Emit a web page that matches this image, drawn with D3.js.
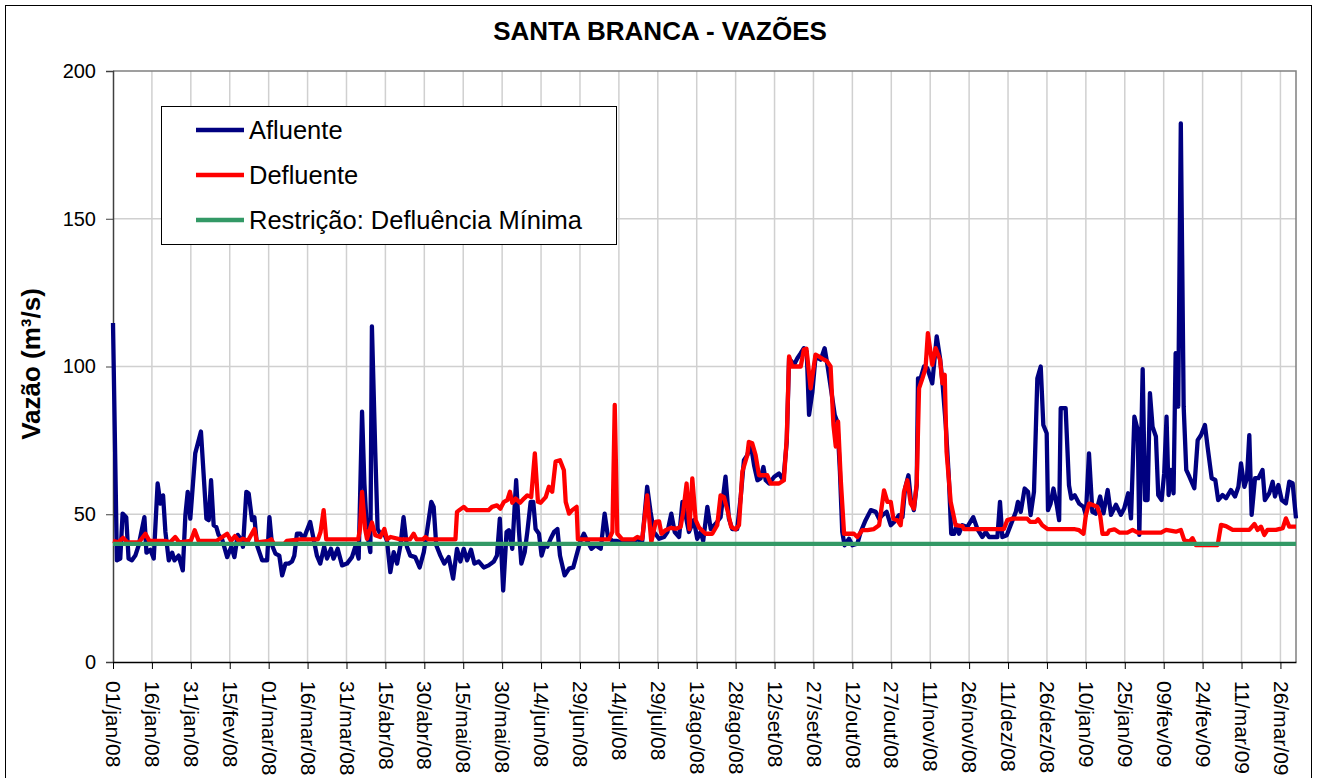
<!DOCTYPE html>
<html>
<head>
<meta charset="utf-8">
<script src="https://d3js.org/d3.v7.min.js"></script>
<style>
  body { margin: 0; background: #fff; }
  text { font-family: "Liberation Sans", Arial, sans-serif; }
</style>
</head>
<body>
<script>
// santa branca flows
// days are counted from 01/jan/08
const afluenteDia = [0,1.5,2.8,3.7,5.1,6,7.3,8.6,9.9,12.1,12.9,14.4,15.7,17.2,18.3,19.3,20.2,21.5,22.8,23.7,25.3,26.9,27.9,28.8,29.8,31.7,33.9,36,36.9,37.8,38.8,39.8,40.7,42,44,45.6,46.8,48.1,49.1,50.1,51.4,52.3,53.6,54.5,55.5,57.5,59.4,60.3,61.3,62.6,64.1,65.2,66.5,67.7,69,69.9,70.9,72.2,73.5,74.5,76,77.3,78.6,79.9,81.4,82.5,84,85,86.6,88.3,90.2,92.1,93.4,94.7,96,96.9,97.9,99.2,99.8,101.1,102,103,104.3,105.6,106.9,108.2,109.5,110.8,112,113.3,114.6,116.5,118.2,119.8,121,122.7,123.6,124.6,126.2,127.7,129.4,131.1,132.6,133.9,135.2,136.5,138,139.3,141,142.9,144.8,146.8,148,149.1,150.4,151.7,152.6,153.9,155.4,156.5,157.4,158.7,159.7,161,162,162.9,164.2,165.2,166.4,167.4,168.7,170,171.3,172.3,174.1,175.8,177.4,179,180.2,181.5,182.8,184.4,186,188,189.5,190.8,192.5,194,196,198,200,202,204,205.9,207.2,208.5,210.5,212.4,213.7,215.2,216.5,218.2,219.5,220.7,222,223.9,225.2,226.5,227.5,229.1,230.4,232.3,234.2,236.1,237.4,238.7,240.6,241.9,243.2,244.5,245.8,247.1,248.4,249.6,250.7,251.6,252.9,254.9,256.7,258.4,259.7,260.6,262.5,263.8,265.1,266.3,267.4,268.3,269.6,270.8,272.8,274.3,275.3,276.9,278.2,279.2,280.2,281.1,282,283.7,285,286.9,288.2,290.1,292.1,294,295.3,296.6,298.2,299.8,301.1,303,304.3,305.3,306.6,307.5,308.7,309.8,310.3,311.3,312.6,313.9,315.8,317.5,318.8,319.7,321,322.2,323.1,324.2,325.2,326.1,327.4,329.3,331.6,333.2,335.1,336.4,337.7,339.3,340.9,341.9,342.8,344.5,346,348,348.8,349.9,351.4,352.7,353.7,355,356.3,357.6,358.6,359.9,360.4,361.4,362.5,363.8,364.7,365.3,367.2,368.5,369.4,370.7,372.4,374.1,375,376.2,377.5,378.8,380.5,381.8,383.4,384.7,386.6,388.5,389.8,391.3,392.4,393.7,395,395.6,396.9,397.8,398.8,399.7,400.7,402,402.9,404.2,405.2,406.1,406.9,407.8,408.8,409.6,410.6,411.6,412.7,413.7,414.9,416.8,418.1,419.4,420.9,421.9,423.5,424.9,426,427.7,429,430.9,432.5,433.8,434.8,436.1,437.1,438,438.9,440.2,441.5,443.1,444,445.7,447,447.9,449.2,450.5,452.1,453.4,454.7,456]
const afluenteVal = [114.7,34.4,35,50.2,49,35,34.4,36,39.5,49,37,38,35,60.4,53.6,56.4,44,34.4,37,34.4,36,31,49.7,57.6,48.5,70.6,78,48.5,48,61.5,46.3,45.7,43,41.7,35.5,39,35.5,43,41.7,39,57.6,57,48,49,39.5,34.4,34.4,49,39.5,36.7,36,29.3,33.3,33.3,34,36,43.4,43.4,41.7,44,47.4,41.7,36,33.3,39,35,38.3,35,38.3,32.7,33.3,35.5,39,35,84.7,60.4,44,37.2,113.6,71,45,43.4,44,41,30.4,37.2,33.3,39.5,49,39,36,35.5,32,37.2,44,54.2,52.5,39.5,36,33.3,35.5,28.2,38.3,34,38.3,34.4,38,33.3,34,32,32.7,34,36,48.5,24.2,44,44.6,38.3,61.5,44,33.3,37.2,44,54.2,54.2,45,43.4,36,39.5,39,41.7,44,45,36,29.3,31.6,32,37.2,41,43.4,41,38.3,39.5,38.3,50.2,42.3,41,41,40.5,41,40.5,41.5,41,59.3,50.8,44,41.7,42.3,44,50.2,44,42.3,54.2,49.7,44,48,41.7,44,41,52.5,45,46.8,49,62.7,48.5,45,45,55.3,68.3,70,74,66.6,61.5,62.1,66,61.5,60.4,62.7,63.8,61.5,74.5,102.8,100.6,102.8,104.5,106.2,105,83.6,91.5,103.4,102.3,106.2,101,91.5,83.6,81.3,64.4,44,39.5,41.7,39.5,40,44,48,51.4,50.8,48.5,49.7,50.8,46.3,47.4,49.7,49,58.7,63.2,55.3,51.4,59.8,96,96,100,99.4,94.3,110.2,102.8,94.9,80.2,62.1,43.4,43.4,46.3,43.4,46.3,45.7,49,45,42.3,44,42.3,42.3,42.3,54.2,42.3,42.9,46.3,50.8,54.2,50.8,58.7,57.6,49.7,57.6,96,100,80.2,77.4,51.4,53.6,58.7,53,48,85.9,85.9,59.8,55.3,56.4,53.6,52.5,49.7,70.6,50.8,50.2,56,50.3,58.2,49.8,53.2,49.8,52,57.1,48.6,83,78.5,43,99.1,54.8,54.8,91,79.6,76.3,56.5,54.8,63.9,83,56.5,65,57.1,104.5,86.4,182.3,86.4,65,62.7,58.8,75.1,76.8,80.2,72.9,62.2,61.6,54.8,56.5,55.4,58.2,56,59.3,67.2,59.3,62.2,76.8,49.8,62.2,62.2,65,54.8,57.1,61,56,59.9,54.8,53.7,61,60.5,48.6]

const defluenteDia = [0,2,3.9,5.5,10,12.5,14,20,22,24,25.5,30,31.5,33,40,44,45.5,47,48.5,50,52,54.5,55.5,60,61,62,66,67,72,79,80,81.2,82.2,94.5,95.2,96,97.2,97.9,99.8,101.1,103,104.6,105.6,107,110.8,114.5,115.9,117,119.5,120.4,121.5,132,132.6,135.2,136.5,144.8,146.1,148,149.3,150.7,152,153,153.9,155.2,156.9,158.4,159.7,161.2,162.6,163.8,164.8,166.8,168,169.3,170.6,172.3,173.8,174.5,175.8,177,178.7,179.2,191.2,192.5,193.4,194.4,196.3,200.8,202.1,204,205.9,207.5,209.2,210.5,211.4,213,215,216.9,218.8,219.8,221.1,222.2,223.3,224.6,225.9,228.4,231,232.9,234.2,235.5,237,238.3,240,241.3,242.6,244.5,245.1,246.4,247.7,249,252.2,253.5,256.7,258.6,259.7,260.6,261.8,265.1,266.3,267.3,268.9,270.8,272.1,274.1,275.3,276.6,277.7,278.6,279.5,280.5,281.8,285.6,286.9,288.8,290.8,293.3,295.3,297.2,298.5,299.8,300.8,302.3,303.6,304.9,306.2,307.5,308.7,309.8,310.7,312,313.2,314.1,315.8,317.1,318.8,319.7,320.6,321.3,322.9,324.8,327.4,328,343.4,344.7,346.7,352.4,353.5,355.7,356.6,358.2,360.2,370.4,372.4,374.1,375,376.2,379.4,380.5,381.4,383.3,384,386,387.9,391,393,395,404,405.9,409.7,411.6,412.9,414.9,416.1,417.4,425.8,427.1,429,431.6,438,440,441.2,442.5,443.8,445,448.3,450.9,452.1,453.4,456]
const defluenteVal = [41,40.5,42,40.5,40.5,43.4,41,41,40.5,42.3,40.5,41,44.6,41,41,43.4,41,42.6,41,41.7,41,45,40.5,41,41.5,40,40,41,41.5,41.5,44,51.4,41.5,41.5,45,57.6,45,41.7,47.2,42.9,42.3,45,41.5,42.3,41.5,41.5,43.4,41.5,41.5,42.3,41.5,41.5,50.8,52.5,51.4,51.4,52.5,53,51.9,54.2,54.8,57.6,53.9,55.3,53.9,55.3,56.4,55.8,70.6,54.2,53.9,55.8,59.3,57.6,67.8,68.3,64.9,54.2,50.2,51.4,52.5,41.5,41.5,44,87,43.4,41.5,41.5,42.3,41.7,56.4,40.6,47.4,47.6,43.4,44.6,45.4,45.1,45.7,50.8,60.4,45,62.1,48,45.5,43.4,43.4,46.3,56.4,55.8,50.8,45.7,44.9,46.3,64.4,70,74.5,74,70,63.2,63.2,60.4,60.4,61.5,75.7,103.4,100,100,105.7,106,92.6,104,103.4,102.3,101.7,100,80.2,72.9,81.3,62.1,43.4,43.4,42.3,44.6,44.6,45,46.3,58.1,54.2,54.2,48.5,48,46.3,57.6,61.5,53.6,51.9,60.4,92.6,96,99.4,111.3,100.6,106.2,102.3,94.3,97.2,71.2,54.2,46.3,46,45,45,48,48.5,48.5,47.4,47.4,48.3,46.3,45,45,44.6,43.4,49.7,53.6,52.5,49.7,43.4,43.4,44.5,44.9,43.8,43.8,44.7,43.8,43.8,44.7,44.1,44.7,41.3,40.7,41.9,39.6,39.6,46.4,46,44.7,44.7,46.7,44.7,45.8,43,44.7,44.7,45.3,48.6,45.8,45.8]

// minimum outflow restriction, flat
const minimaDia = [0, 456]
const minimaVal = [40, 40]

const yTicks = [0, 50, 100, 150, 200]
const meses = ['jan','fev','mar','abr','mai','jun','jul','ago','set','out','nov','dez']

// quick sanity check on the hand typed arrays
if (afluenteDia.length !== afluenteVal.length) throw new Error('afluente ' + afluenteDia.length + ' vs ' + afluenteVal.length)
if (defluenteDia.length !== defluenteVal.length) throw new Error('defluente ' + defluenteDia.length + ' vs ' + defluenteVal.length)

const width = 1318
const height = 778
// plot area edges (top is taken by window.top, so prefix them)
const pLeft = 113, pRight = 1296, pTop = 71, pBottom = 662

const t0 = Date.UTC(2008, 0, 1)
const dia = d => new Date(t0 + d * 864e5)

const x = d3.scaleUtc()
  .domain([dia(0), dia(456)])
  .range([pLeft, pRight])

const y = d3.scaleLinear()
  .domain([0, 200])
  .range([pBottom, pTop])

const svg = d3.select('body').append('svg')
  .attr('width', width)
  .attr('height', height)

// chart frame
svg.append('rect')
  .attr('x', 5.5).attr('y', 5.5)
  .attr('width', 1306).attr('height', 800)
  .attr('fill', '#fff').attr('stroke', '#000')

// tick every 15 days
const xTicks = d3.range(0, 451, 15).map(dia)
const fmt = d => d3.utcFormat('%d')(d) + '/' + meses[d.getUTCMonth()] + '/' + d3.utcFormat('%y')(d)

// grid
svg.append('g').selectAll('line').data(xTicks.slice(1))
  .enter().append('line')
  .attr('x1', d => x(d)).attr('x2', d => x(d))
  .attr('y1', pTop).attr('y2', pBottom)
  .attr('stroke', '#d0d0d0').attr('stroke-width', 1.5)

svg.append('g').selectAll('line').data(yTicks.slice(1, 4))
  .enter().append('line')
  .attr('x1', pLeft).attr('x2', pRight)
  .attr('y1', d => y(d)).attr('y2', d => y(d))
  .attr('stroke', '#d0d0d0').attr('stroke-width', 1.5)

// plot area top/right border
svg.append('path')
  .attr('d', `M${pLeft},${pTop}H${pRight}V${pBottom}`)
  .attr('fill', 'none').attr('stroke', '#808080').attr('stroke-width', 1.5)

// axes
const yAxis = svg.append('g')
  .attr('transform', `translate(${pLeft},0)`)
  .call(d3.axisLeft(y).tickValues(yTicks).tickSize(7).tickPadding(10))
yAxis.select('.domain').attr('stroke', '#404040').attr('stroke-width', 1.5)
yAxis.selectAll('line').attr('stroke', '#404040')
yAxis.selectAll('text').attr('font-size', 20).attr('fill', '#000')
  .attr('font-family', '"Liberation Sans", Arial, sans-serif')

const xAxis = svg.append('g')
  .attr('transform', `translate(0,${pBottom})`)
  .call(d3.axisBottom(x).tickValues(xTicks).tickFormat(fmt).tickSize(7).tickSizeOuter(0))
xAxis.select('.domain').attr('stroke', '#000').attr('stroke-width', 1.5)
xAxis.selectAll('line').attr('stroke', '#000')
xAxis.selectAll('text')
  .attr('font-size', 21).attr('fill', '#000')
  .attr('font-family', '"Liberation Sans", Arial, sans-serif')
  .attr('transform', 'rotate(90)')
  .attr('x', 19).attr('y', 0).attr('dy', '0.35em')
  .attr('text-anchor', 'start')

// series
const line = d3.line()
  .x(d => x(dia(d[0])))
  .y(d => y(d[1]))

const series = [
  { nome: 'Afluente', cor: '#000080', dias: afluenteDia, vals: afluenteVal },
  { nome: 'Defluente', cor: '#ff0000', dias: defluenteDia, vals: defluenteVal },
  { nome: 'Restrição: Defluência Mínima', cor: '#339966', dias: minimaDia, vals: minimaVal }
]

svg.append('g').selectAll('path').data(series)
  .enter().append('path')
  .attr('d', s => line(d3.zip(s.dias, s.vals)))
  .attr('fill', 'none')
  .attr('stroke', s => s.cor)
  .attr('stroke-width', 4.3)
  .attr('stroke-linejoin', 'round')

// legend
const leg = svg.append('g')
leg.append('rect')
  .attr('x', 161.5).attr('y', 106.5)
  .attr('width', 455).attr('height', 138)
  .attr('fill', '#fff').attr('stroke', '#000')
const item = leg.selectAll('g.item').data(series)
  .enter().append('g')
  .attr('transform', (d, i) => `translate(0,${130 + i * 45})`)
item.append('line')
  .attr('x1', 196).attr('x2', 244)
  .attr('stroke', d => d.cor).attr('stroke-width', 4.3)
item.append('text')
  .attr('x', 249).attr('dy', '0.35em')
  .attr('font-size', 25.5)
  .text(d => d.nome)

// titles
svg.append('text')
  .attr('x', 660).attr('y', 40)
  .attr('text-anchor', 'middle')
  .attr('font-size', 26).attr('font-weight', 'bold')
  .text('SANTA BRANCA - VAZÕES')

svg.append('text')
  .attr('transform', 'translate(40,364) rotate(-90)')
  .attr('text-anchor', 'middle')
  .attr('font-size', 26).attr('font-weight', 'bold')
  .text('Vazão (m³/s)')
</script>
</body>
</html>
